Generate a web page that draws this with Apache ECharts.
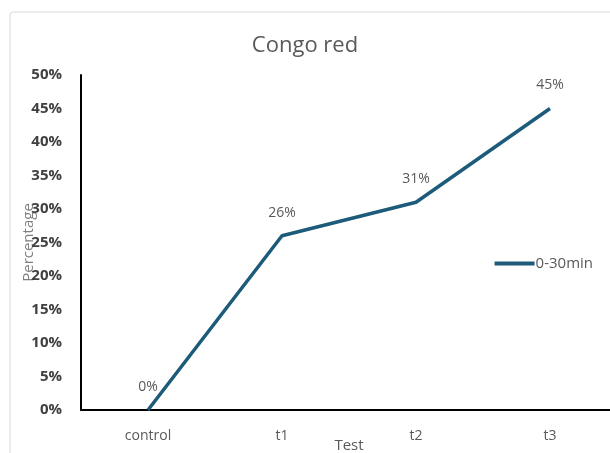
<!DOCTYPE html>
<html>
<head>
<meta charset="utf-8">
<script src="https://cdn.jsdelivr.net/npm/echarts@6/dist/echarts.min.js"></script>
<style>
  html, body { margin: 0; padding: 0; background: #fff; }
  #chart { width: 610px; height: 453px; }
</style>
</head>
<body>
<div id="chart"></div>
<script>
const categories = ['control', 't1', 't2', 't3'];
const values = [0, 26, 31, 45];
const yTicks = [0, 5, 10, 15, 20, 25, 30, 35, 40, 45, 50];

const chart = echarts.init(document.getElementById('chart'));

chart.setOption({
  backgroundColor: '#fff',
  animation: false,
  graphic: [
    {
      type: 'rect',
      shape: { x: 10, y: 12, width: 620, height: 460, r: 3 },
      style: { fill: 'none', stroke: '#d9d9d9', lineWidth: 1 },
      z: -1
    }
  ],
  title: {
    text: 'Congo red',
    left: 'center',
    top: 30,
    textStyle: { fontFamily: 'Open Sans', fontSize: 22, fontWeight: 'normal', color: '#595959' }
  },
  legend: {
    right: 12,
    top: 251,
    itemWidth: 40,
    itemHeight: 4,
    icon: 'rect',
    itemGap: 4,
    textStyle: { fontFamily: 'Open Sans', fontSize: 15, color: '#595959', padding: [0, 0, 0, -4] },
    data: ['0-30min']
  },
  grid: { left: 81, top: 75, width: 536, height: 335, containLabel: false, outerBoundsMode: 'none' },
  xAxis: {
    type: 'category',
    data: categories,
    boundaryGap: true,
    name: 'Test',
    nameLocation: 'middle',
    nameGap: 28,
    nameMoveOverlap: false,
    nameTextStyle: { fontFamily: 'Open Sans', fontSize: 15, color: '#595959' },
    axisLine: { lineStyle: { color: '#000', width: 2 } },
    axisTick: { show: false },
    axisLabel: { margin: 19, fontFamily: 'Open Sans', fontSize: 14, color: '#595959' }
  },
  yAxis: {
    type: 'value',
    min: yTicks[0],
    max: yTicks[yTicks.length - 1],
    interval: 5,
    name: 'Percentage',
    nameLocation: 'middle',
    nameGap: 45,
    nameMoveOverlap: false,
    nameTextStyle: { fontFamily: 'Open Sans', fontSize: 15, color: '#7f7f7f' },
    axisLine: { show: true, lineStyle: { color: '#000', width: 2 } },
    axisTick: { show: false },
    splitLine: { show: false },
    axisLabel: {
      margin: 19,
      fontFamily: 'Open Sans',
      fontSize: 15,
      fontWeight: 'bold',
      color: '#404040',
      formatter: v => v + '%'
    }
  },
  series: [
    {
      name: '0-30min',
      type: 'line',
      data: values,
      symbol: 'circle',
      symbolSize: 0,
      showSymbol: true,
      lineStyle: { color: '#1d5b7a', width: 3.5 },
      itemStyle: { color: '#1d5b7a' },
      label: {
        show: true,
        position: 'top',
        distance: 16,
        fontFamily: 'Open Sans',
        fontSize: 14,
        color: '#595959',
        formatter: p => p.value + '%'
      }
    }
  ]
});
</script>
</body>
</html>
